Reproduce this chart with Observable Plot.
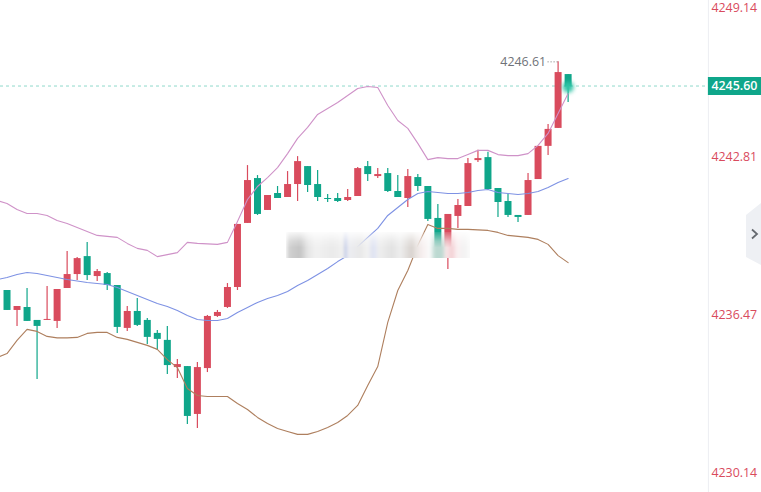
<!DOCTYPE html>
<html>
<head>
<meta charset="utf-8">
<style>
html,body{margin:0;padding:0;background:#fff;width:761px;height:492px;overflow:hidden}
#chart{position:absolute;left:0;top:0}
#chart svg{display:block}
#smearWrap{position:absolute;left:286px;top:232px;width:184px;height:26px;overflow:hidden;
 -webkit-mask-image:linear-gradient(to bottom,rgba(0,0,0,.15),rgba(0,0,0,.75) 35%,#000 60%);mask-image:linear-gradient(to bottom,rgba(0,0,0,.15),rgba(0,0,0,.75) 35%,#000 60%)}
#smear{position:absolute;left:-4px;right:-4px;top:-6px;bottom:-10px;filter:blur(1.6px);
 background:linear-gradient(to right,#fff 0,#fff 3px,#d0d0d0 7px,#c4c4c4 18px,#e6e6e6 26px,#f1f1f1 34px,#eaeaea 50px,#f0f0f0 60px,#ebebeb 62px,#b9c3e6 63px,#ecedf2 66px,#e8e8e8 78px,#f2f2f2 86px,#dfe3f0 90px,#e2e6f4 93px,#eeeeee 97px,#e2e2e2 110px,#eeeeee 118px,#d8d2ce 130px,#e9e4e1 134px,#f6eeee 140px,#fbfbfb 148px,#bcd9d1 153px,#bcd9d1 160px,#f8e6e8 164px,#f3d0d4 170px,#fbf0f1 175px,#f2f2f2 182px,#fafafa 188px,#fff 192px)}
#tab{position:absolute;left:746px;top:203px;width:15px;height:62px;background:#eef0f4;
 clip-path:polygon(0 12px,15px 0,15px 62px,0 54px)}
#tab svg{position:absolute;left:4px;top:25px}
</style>
<script src="https://cdn.jsdelivr.net/npm/d3@7"></script>
<script src="https://cdn.jsdelivr.net/npm/@observablehq/plot@0.6"></script>
</head>
<body>
<div id="chart"></div>
<div id="smearWrap"><div id="smear"></div></div>
<div id="tab"><svg width="10" height="12" viewBox="0 0 10 12"><path d="M2 1.5 L7 6 L2 10.5" fill="none" stroke="#666a70" stroke-width="1.8"/></svg></div>
<script>
const open=[4237.44,4236.64,4236.76,4236.24,4236.24,4236.20,4237.52,4238.08,4238.80,4238.00,4238.12,4237.64,4235.92,4236.60,4236.24,4235.72,4235.44,4234.35,4234.39,4232.47,4234.31,4236.40,4236.76,4237.56,4240.13,4241.93,4240.65,4241.33,4241.17,4241.69,4242.41,4241.69,4241.13,4241.13,4241.05,4241.21,4242.41,4242.01,4242.13,4241.41,4241.13,4241.97,4241.61,4240.33,4238.96,4240.41,4240.81,4242.65,4242.77,4241.53,4241.01,4240.45,4240.45,4241.89,4243.22,4243.94,4246.10];
const high=[4237.44,4236.80,4237.52,4236.24,4237.60,4237.48,4239.00,4238.76,4239.37,4238.28,4238.16,4237.64,4236.80,4237.12,4236.32,4235.84,4236.00,4234.67,4234.39,4234.55,4236.44,4236.64,4237.72,4240.09,4242.45,4242.05,4241.25,4241.61,4242.21,4242.81,4242.41,4242.25,4241.29,4241.33,4241.49,4242.37,4242.61,4242.33,4242.33,4242.05,4242.29,4242.09,4241.61,4240.89,4240.49,4241.09,4242.73,4243.06,4242.98,4241.53,4241.29,4240.45,4242.13,4243.22,4244.10,4246.61,4246.10];
const low=[4236.64,4236.00,4236.20,4233.87,4236.24,4235.92,4237.52,4237.84,4237.84,4237.80,4237.44,4235.72,4235.80,4236.00,4235.28,4235.04,4234.07,4233.91,4232.07,4231.91,4234.15,4236.36,4236.72,4237.44,4240.13,4240.45,4240.65,4241.13,4241.17,4241.01,4241.37,4241.01,4240.97,4240.97,4241.01,4241.21,4241.81,4241.93,4241.37,4241.17,4240.77,4241.41,4240.21,4239.12,4238.28,4239.93,4240.81,4242.57,4241.45,4240.37,4240.37,4240.17,4240.45,4241.89,4242.85,4243.94,4244.98];
const close=[4236.64,4236.80,4236.20,4236.00,4236.28,4237.48,4238.08,4238.72,4238.04,4238.20,4237.64,4235.96,4236.60,4236.04,4235.56,4235.48,4234.43,4234.47,4232.39,4234.35,4236.40,4236.56,4237.56,4240.09,4241.85,4240.49,4241.25,4241.13,4241.69,4242.61,4241.65,4241.17,4241.09,4241.01,4241.17,4242.33,4242.09,4242.09,4241.41,4241.17,4242.01,4241.61,4240.29,4239.12,4240.49,4240.85,4242.53,4242.73,4241.49,4240.97,4240.45,4240.37,4241.85,4243.22,4243.90,4246.18,4245.60];
const upperBand=[4241.05,4240.93,4240.69,4240.53,4240.53,4240.45,4240.25,4240.13,4239.97,4239.81,4239.65,4239.61,4239.57,4239.33,4239.13,4239.05,4238.80,4238.88,4238.96,4239.37,4239.33,4239.31,4239.29,4239.37,4240.21,4241.09,4241.61,4241.97,4242.37,4242.93,4243.54,4243.98,4244.50,4244.74,4244.98,4245.26,4245.54,4245.62,4245.58,4244.86,4244.26,4243.94,4243.34,4242.69,4242.77,4242.73,4242.73,4242.89,4243.06,4243.06,4242.89,4242.85,4242.85,4242.93,4243.26,4243.74,4244.54,4245.34];
const midBand=[4237.88,4237.96,4238.08,4238.16,4238.12,4238.04,4237.96,4237.88,4237.82,4237.76,4237.72,4237.68,4237.56,4237.40,4237.24,4237.08,4236.92,4236.80,4236.64,4236.44,4236.28,4236.24,4236.24,4236.32,4236.56,4236.76,4236.96,4237.12,4237.24,4237.40,4237.64,4237.84,4238.08,4238.32,4238.60,4238.84,4239.20,4239.57,4239.93,4240.45,4240.77,4241.09,4241.33,4241.41,4241.37,4241.33,4241.33,4241.37,4241.45,4241.49,4241.37,4241.33,4241.29,4241.33,4241.41,4241.57,4241.77,4241.93];
const lowerBand=[4234.75,4234.91,4235.44,4235.88,4235.80,4235.60,4235.54,4235.54,4235.56,4235.72,4235.76,4235.76,4235.56,4235.48,4235.36,4235.24,4235.08,4234.67,4234.35,4233.51,4233.23,4233.19,4233.19,4233.19,4232.91,4232.67,4232.35,4232.11,4231.91,4231.79,4231.67,4231.67,4231.79,4231.95,4232.15,4232.43,4232.83,4233.63,4234.39,4236.16,4237.44,4238.24,4239.25,4240.09,4239.93,4239.93,4239.89,4239.89,4239.87,4239.85,4239.77,4239.65,4239.61,4239.57,4239.49,4239.29,4238.84,4238.56];
const axisTicks=[4242.81,4236.47,4230.14];
const topTick=[4249.14];
const lastPrice=[4245.60];
const peak=[{i:55,v:4246.61}];

const candles=open.map((o,i)=>({i,o,h:high[i],l:low[i],c:close[i],up:close[i]>=o}));
const bandRows=a=>a.map((v,k)=>({i:k-1,v}));
const RED="#d94b5d",GREEN="#0fa68a";
const col=d=>d.up?RED:GREEN;
const axisAt=70,endAt=75.3,startAt=-0.65;
const fontFamily="'Open Sans',sans-serif";

const plot=Plot.plot({
 width:761,height:492,margin:0,
 style:{background:"#fff",fontFamily},
 x:{domain:[startAt,endAt],range:[0,761],axis:null},
 y:{domain:[4229.34,4249.07],range:[492,0],axis:null},
 marks:[
  Plot.ruleY(lastPrice,{x1:startAt,x2:axisAt,dy:-1,stroke:"#8fd9cb",strokeDasharray:"3,3"}),
  Plot.ruleX([axisAt],{stroke:"#eceef2"}),
  Plot.ruleX(candles,{x:"i",y1:"l",y2:"h",stroke:col,strokeWidth:1.2}),
  Plot.ruleX(candles,{x:"i",y1:d=>Math.min(d.o,d.c),y2:d=>Math.max(d.o,d.c),stroke:col,strokeWidth:7}),
  Plot.line(bandRows(upperBand),{x:"i",y:"v",stroke:"#cf92c8",strokeWidth:1.1}),
  Plot.line(bandRows(midBand),{x:"i",y:"v",stroke:"#7e92e4",strokeWidth:1.1}),
  Plot.line(bandRows(lowerBand),{x:"i",y:"v",stroke:"#ae7f5e",strokeWidth:1.1}),
  Plot.dot(lastPrice,{x:56,y:d=>d,r:5.5,fill:"#2fc4a6",imageFilter:"blur(2px)"}),
  Plot.ruleY(peak,{y:"v",x1:54,x2:55,stroke:"#777",strokeDasharray:"1,2"}),
  Plot.text(peak,{x:54,y:"v",text:d=>d.v.toFixed(2),textAnchor:"end",dx:-2,fontSize:12.4,fill:"#6f7278"}),
  Plot.ruleY(lastPrice,{x1:axisAt,x2:endAt,dy:-1,stroke:GREEN,strokeWidth:18}),
  Plot.text(lastPrice,{x:axisAt,y:d=>d,text:d=>d.toFixed(2),textAnchor:"start",dx:3,dy:-1,fontSize:12.4,fontWeight:600,fill:"#fff"}),
  Plot.text(axisTicks,{x:axisAt,y:d=>d,text:d=>d.toFixed(2),textAnchor:"start",dx:3,fontSize:12.4,fill:RED}),
  Plot.text(topTick,{x:axisAt,y:d=>d,text:d=>d.toFixed(2),textAnchor:"start",dx:3,dy:9,fontSize:12.4,fill:RED})
 ]
});
document.getElementById("chart").appendChild(plot);
</script>
</body>
</html>
